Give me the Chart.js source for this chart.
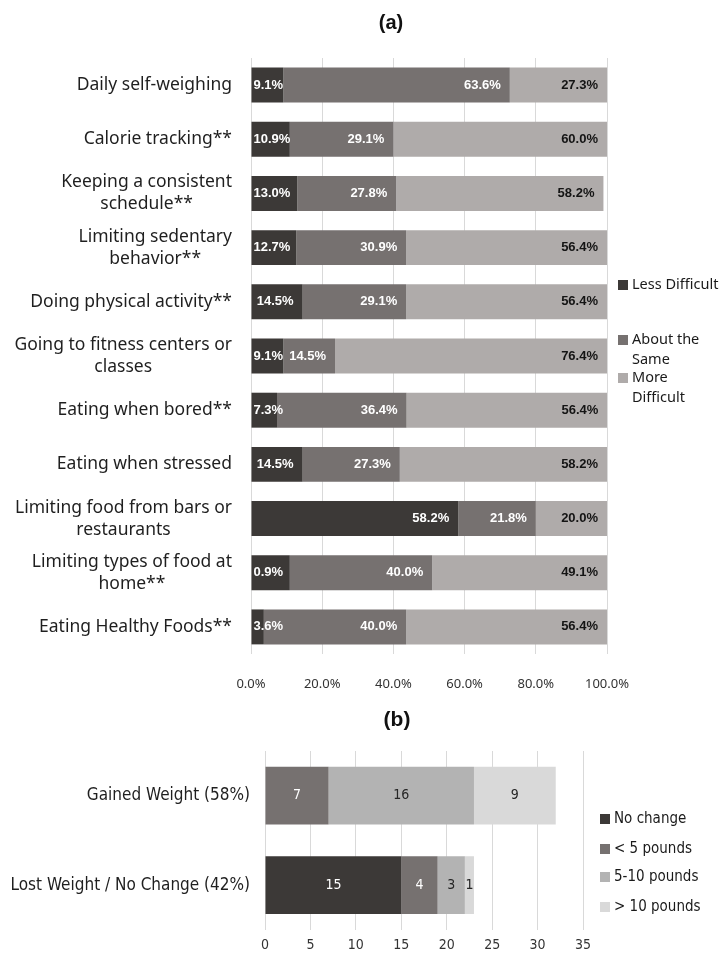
<!DOCTYPE html>
<html>
<head>
<meta charset="utf-8">
<script src="https://cdn.jsdelivr.net/npm/chart.js@4.4.1/dist/chart.umd.min.js"></script>
<style>
  html, body { margin: 0; padding: 0; background: #fff; }
  canvas { display: block; }
</style>
</head>
<body>
<canvas id="chartA" width="724" height="700"></canvas>
<canvas id="chartB" width="724" height="255"></canvas>
<script>
// ---- panel (a): difficulty of behaviours ----
const behaviors = [
  'Daily self-weighing',
  'Calorie tracking**',
  ['Keeping a consistent', 'schedule**'],
  ['Limiting sedentary', 'behavior**'],
  'Doing physical activity**',
  ['Going to fitness centers or', 'classes'],
  'Eating when bored**',
  'Eating when stressed',
  ['Limiting food from bars or', 'restaurants'],
  ['Limiting types of food at', 'home**'],
  'Eating Healthy Foods**'
];
const lessDifficult = [9.1, 10.9, 13.0, 12.7, 14.5, 9.1, 7.3, 14.5, 58.2, 10.9, 3.6];
const aboutSame = [63.6, 29.1, 27.8, 30.9, 29.1, 14.5, 36.4, 27.3, 21.8, 40.0, 40.0];
const moreDifficult = [27.3, 60.0, 58.2, 56.4, 56.4, 76.4, 56.4, 58.2, 20.0, 49.1, 56.4];
// label text as printed on the bars (one differs from its bar)
const lessShown = ['9.1%', '10.9%', '13.0%', '12.7%', '14.5%', '9.1%', '7.3%', '14.5%', '58.2%', '0.9%', '3.6%'];
const seriesA = ['Less Difficult', 'About the Same', 'More Difficult'];

// ---- panel (b): weight change ----
const groups = ['Gained Weight (58%)', 'Lost Weight / No Change (42%)'];
const noChange = [0, 15];
const under5 = [7, 4];
const from5to10 = [16, 3];
const over10 = [9, 1];
const seriesB = ['No change', '< 5 pounds', '5-10 pounds', '> 10 pounds'];

const NARROW = '"DejaVu Sans Condensed", sans-serif';
const colorsA = ['#3c3937', '#767170', '#afabaa'];
const colorsB = ['#3c3937', '#767170', '#b3b3b3', '#d9d9d9'];

function titlePlugin(text, x, y, font) {
  return {
    id: 'panelTitle',
    afterDraw(chart) {
      const ctx = chart.ctx;
      ctx.save();
      ctx.font = font;
      ctx.fillStyle = '#111';
      ctx.textAlign = 'center';
      ctx.textBaseline = 'middle';
      ctx.fillText(text, x, y);
      ctx.restore();
    }
  };
}

function wrapText(ctx, text, maxWidth) {
  const words = text.split(' ');
  const lines = [];
  let line = '';
  words.forEach(w => {
    const test = line ? line + ' ' + w : w;
    if (line && ctx.measureText(test).width > maxWidth) {
      lines.push(line);
      line = w;
    } else {
      line = test;
    }
  });
  lines.push(line);
  return lines;
}

function legendPlugin(cfg) {
  return {
    id: 'sideLegend',
    afterDraw(chart) {
      const ctx = chart.ctx;
      ctx.save();
      ctx.font = cfg.font;
      ctx.textBaseline = 'middle';
      ctx.textAlign = 'left';
      chart.data.datasets.forEach((ds, i) => {
        const y = cfg.ys[i];
        ctx.fillStyle = ds.backgroundColor;
        ctx.fillRect(cfg.boxX, y - cfg.box / 2, cfg.box, cfg.box);
        ctx.fillStyle = '#1a1a1a';
        const lines = cfg.wrap ? wrapText(ctx, ds.label, cfg.wrap) : [ds.label];
        lines.forEach((l, j) => ctx.fillText(l, cfg.textX, y + j * cfg.lineHeight));
      });
      ctx.restore();
    }
  };
}

function segLabels(getText, colors, font, mode) {
  return {
    id: 'segLabels',
    afterDatasetsDraw(chart) {
      const ctx = chart.ctx;
      ctx.save();
      ctx.font = font;
      ctx.textBaseline = 'middle';
      chart.data.datasets.forEach((ds, d) => {
        const meta = chart.getDatasetMeta(d);
        meta.data.forEach((bar, i) => {
          const v = ds.data[i];
          if (!v) return;
          const text = getText(d, i, v);
          const p = bar.getProps(['x', 'base', 'y'], true);
          ctx.fillStyle = colors[d];
          if (mode === 'end') {
            const w = ctx.measureText(text).width;
            let left = p.x - 9 - w;
            if (left < p.base + 2) left = p.base + 2;
            ctx.textAlign = 'left';
            ctx.fillText(text, left, p.y);
          } else {
            ctx.textAlign = 'center';
            ctx.fillText(text, (p.x + p.base) / 2, p.y);
          }
        });
      });
      ctx.restore();
    }
  };
}

// multi-line category labels: block right aligned, lines centred in the block
const yLabelsA = {
  id: 'yLabelsA',
  afterDraw(chart) {
    const ctx = chart.ctx;
    const yScale = chart.scales.y;
    ctx.save();
    ctx.font = '17.5px "Noto Sans"';
    ctx.fillStyle = '#1f1f1f';
    ctx.textAlign = 'center';
    ctx.textBaseline = 'middle';
    behaviors.forEach((lab, i) => {
      const lines = Array.isArray(lab) ? lab : [lab];
      const widest = Math.max(...lines.map(l => ctx.measureText(l).width));
      const cx = yScale.right - 19 - widest / 2;
      const cy = yScale.getPixelForValue(i);
      lines.forEach((l, j) => ctx.fillText(l, cx, cy + (j - (lines.length - 1) / 2) * 22));
    });
    ctx.restore();
  }
};

new Chart(document.getElementById('chartA'), {
  type: 'bar',
  data: {
    labels: behaviors.map(b => Array.isArray(b) ? b.join(' ') : b),
    datasets: [lessDifficult, aboutSame, moreDifficult].map((vals, i) => ({
      label: seriesA[i],
      data: vals,
      backgroundColor: colorsA[i],
      barPercentage: 0.645,
      categoryPercentage: 1
    }))
  },
  options: {
    indexAxis: 'y',
    responsive: false,
    animation: false,
    layout: { padding: { top: 58, right: 117, left: 0, bottom: 0 } },
    plugins: { legend: { display: false }, tooltip: { enabled: false } },
    scales: {
      x: {
        stacked: true,
        min: 0,
        max: 100,
        ticks: {
          stepSize: 20,
          callback: v => v.toFixed(1) + '%',
          font: { family: '"Noto Sans"', size: 13 },
          color: '#333333',
          padding: 22
        },
        grid: { color: '#d9d9d9', drawTicks: false },
        border: { display: false },
        afterFit: s => { s.height = 46; }
      },
      y: {
        stacked: true,
        ticks: { display: false },
        grid: { display: false, drawTicks: false },
        border: { display: false },
        afterFit: s => { s.width = 251; }
      }
    }
  },
  plugins: [
    titlePlugin('(a)', 391, 23, 'bold 20px "Liberation Sans"'),
    yLabelsA,
    segLabels((d, i, v) => d === 0 ? lessShown[i] : v.toFixed(1) + '%',
      ['#ffffff', '#ffffff', '#141414'], 'bold 13px "Liberation Sans"', 'end'),
    legendPlugin({ font: '14.5px "Noto Sans"', ys: [285, 340, 378], boxX: 618, box: 10, textX: 632, lineHeight: 20, wrap: 89 })
  ]
});

new Chart(document.getElementById('chartB'), {
  type: 'bar',
  data: {
    labels: groups,
    datasets: [noChange, under5, from5to10, over10].map((vals, i) => ({
      label: seriesB[i],
      data: vals,
      backgroundColor: colorsB[i],
      barPercentage: 0.645,
      categoryPercentage: 1
    }))
  },
  options: {
    indexAxis: 'y',
    responsive: false,
    animation: false,
    layout: { padding: { top: 51, right: 141, left: 0, bottom: 0 } },
    plugins: { legend: { display: false }, tooltip: { enabled: false } },
    scales: {
      x: {
        stacked: true,
        min: 0,
        max: 35,
        ticks: { stepSize: 5, font: { family: NARROW, size: 14 }, color: '#333333', padding: 7 },
        grid: { color: '#d9d9d9', drawTicks: false },
        border: { display: false },
        afterFit: s => { s.height = 23; }
      },
      y: {
        stacked: true,
        ticks: { font: { family: NARROW, size: 17 }, color: '#1f1f1f', padding: 15 },
        grid: { display: false, drawTicks: false },
        border: { display: false },
        afterFit: s => { s.width = 265; }
      }
    }
  },
  plugins: [
    titlePlugin('(b)', 397, 20, 'bold 21px "Liberation Sans"'),
    segLabels((d, i, v) => String(v), ['#ffffff', '#ffffff', '#262626', '#262626'], '14px ' + NARROW, 'center'),
    legendPlugin({ font: '15px ' + NARROW, ys: [119, 149, 177, 207], boxX: 600, box: 10, textX: 614, lineHeight: 20 })
  ]
});
</script>
</body>
</html>
